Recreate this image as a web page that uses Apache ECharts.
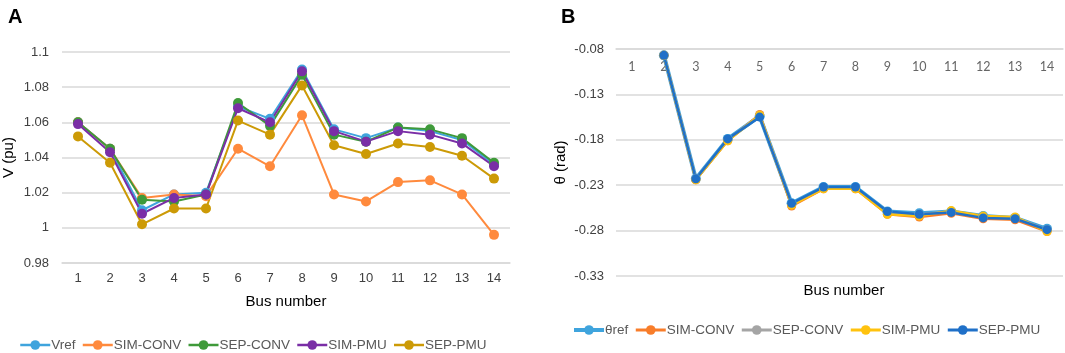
<!DOCTYPE html>
<html>
<head>
<meta charset="utf-8">
<script src="https://cdn.jsdelivr.net/npm/echarts@6/dist/echarts.min.js"></script>
<style>
  html, body { margin: 0; padding: 0; background: #fff; }
  #chart { width: 1065px; height: 353px; }
</style>
</head>
<body>
<div id="chart"></div>
<script>
// bus numbers (categories)
const buses = ['1', '2', '3', '4', '5', '6', '7', '8', '9', '10', '11', '12', '13', '14'];

// panel A - voltage magnitude (pu)
const vRef     = [1.060, 1.045, 1.010, 1.019, 1.020, 1.069, 1.062, 1.090, 1.056, 1.051, 1.057, 1.055, 1.050, 1.036];
const vSimConv = [1.060, 1.045, 1.017, 1.019, 1.018, 1.045, 1.035, 1.064, 1.019, 1.015, 1.026, 1.027, 1.019, 0.996];
const vSepConv = [1.060, 1.045, 1.016, 1.015, 1.019, 1.071, 1.058, 1.087, 1.053, 1.049, 1.057, 1.056, 1.051, 1.037];
const vSimPmu  = [1.059, 1.043, 1.008, 1.017, 1.019, 1.068, 1.060, 1.089, 1.055, 1.049, 1.055, 1.053, 1.048, 1.035];
const vSepPmu  = [1.052, 1.037, 1.002, 1.011, 1.011, 1.061, 1.053, 1.081, 1.047, 1.042, 1.048, 1.046, 1.041, 1.028];

// panel B - voltage angle (rad), bus 1 is the slack bus (off the scale)
const tRef     = [null, -0.087, -0.223, -0.179, -0.154, -0.250, -0.232, -0.232, -0.259, -0.261, -0.259, -0.264, -0.266, -0.278];
const tSimConv = [null, -0.087, -0.224, -0.181, -0.152, -0.253, -0.234, -0.234, -0.262, -0.265, -0.261, -0.267, -0.268, -0.281];
const tSepConv = [null, -0.087, -0.223, -0.180, -0.153, -0.251, -0.233, -0.233, -0.260, -0.262, -0.259, -0.265, -0.266, -0.279];
const tSimPmu  = [null, -0.087, -0.224, -0.181, -0.153, -0.252, -0.234, -0.234, -0.262, -0.264, -0.258, -0.264, -0.265, -0.281];
const tSepPmu  = [null, -0.087, -0.223, -0.179, -0.155, -0.250, -0.232, -0.232, -0.259, -0.262, -0.260, -0.266, -0.267, -0.279];

// tick labels
const vTicks = [0.98, 1, 1.02, 1.04, 1.06, 1.08, 1.1];
const tTicks = [-0.33, -0.28, -0.23, -0.18, -0.13, -0.08];

const namesA = ['Vref', 'SIM-CONV', 'SEP-CONV', 'SIM-PMU', 'SEP-PMU'];
const namesB = ['θref', 'SIM-CONV', 'SEP-CONV', 'SIM-PMU', 'SEP-PMU'];

const colorsA = ['#3fa4dd', '#ff8a3d', '#3f9a3a', '#7a2ea6', '#cc9a06'];
const colorsB = ['#3fa4dd', '#f87d2a', '#a5a5a5', '#ffc20e', '#1f70c8'];

const dataA = [vRef, vSimConv, vSepConv, vSimPmu, vSepPmu];
const dataB = [tRef, tSimConv, tSepConv, tSimPmu, tSepPmu];

const gridColor = '#d9d9d9';
const font = 'Liberation Sans, Arial, sans-serif';

let myChart = echarts.init(document.getElementById('chart'));

let series = [];
dataA.forEach(function (d, i) {
  series.push({
    name: 'A:' + namesA[i],
    type: 'line',
    xAxisIndex: 0,
    yAxisIndex: 0,
    data: d,
    color: colorsA[i],
    symbol: 'circle',
    symbolSize: 10,
    lineStyle: { width: 2 },
    animation: false
  });
});
dataB.forEach(function (d, i) {
  series.push({
    name: 'B:' + namesB[i],
    type: 'line',
    xAxisIndex: 1,
    yAxisIndex: 1,
    data: d,
    color: colorsB[i],
    symbol: 'circle',
    symbolSize: i === 0 ? 10 : 9,
    lineStyle: { width: i === 0 ? 4 : 2.5 },
    animation: false
  });
});

let legendText = { fontSize: 13.5, color: '#595959', fontFamily: font, padding: [0, 0, 0, -4] };

let option = {
  backgroundColor: '#fff',
  title: [
    { text: 'A', left: 3, top: 2, textStyle: { fontSize: 20, fontWeight: 'bold', color: '#000', fontFamily: font } },
    { text: 'B', left: 556, top: 2, textStyle: { fontSize: 20, fontWeight: 'bold', color: '#000', fontFamily: font } },
    { text: 'Bus number', left: 839, top: 278, textAlign: 'center',
      textStyle: { fontSize: 15, fontWeight: 'normal', color: '#000', fontFamily: font } }
  ],
  legend: [
    {
      data: namesA.map(function (n) { return { name: 'A:' + n, lineStyle: { width: 2.5 } }; }),
      left: 14, top: 333,
      itemWidth: 30, itemHeight: 12, itemGap: 6,
      formatter: function (n) { return n.slice(2); },
      textStyle: legendText
    },
    {
      data: namesB.map(function (n, i) { return { name: 'B:' + n, lineStyle: { width: i === 0 ? 4 : 3 } }; }),
      left: 567, top: 318,
      itemWidth: 30, itemHeight: 12, itemGap: 6,
      formatter: function (n) { return n.slice(2); },
      textStyle: legendText
    }
  ],
  grid: [
    { left: 60, top: 52, width: 450, height: 211 },
    { left: 616, top: 49, width: 447, height: 227 }
  ],
  xAxis: [
    {
      type: 'category', gridIndex: 0, data: buses, boundaryGap: true,
      name: 'Bus number', nameLocation: 'middle', nameGap: 31,
      nameTextStyle: { fontSize: 15, color: '#000', fontFamily: font },
      axisLine: { show: true, lineStyle: { color: gridColor, width: 1.5 } },
      axisTick: { show: false },
      axisLabel: { fontSize: 13, color: '#404040', margin: 9, fontFamily: font }
    },
    {
      type: 'category', gridIndex: 1, data: buses, boundaryGap: true, position: 'top',
      axisLine: { show: true, lineStyle: { color: gridColor, width: 1.5 } },
      axisTick: { show: false },
      axisLabel: { inside: true, fontSize: 12.5, color: '#666', margin: 11, fontFamily: 'Lato, sans-serif' }
    }
  ],
  yAxis: [
    {
      type: 'value', gridIndex: 0, min: 0.98, max: 1.1,
      name: 'V (pu)', nameLocation: 'middle', nameGap: 46,
      nameTextStyle: { fontSize: 15, color: '#000', fontFamily: font },
      axisLine: { show: false }, axisTick: { show: false, customValues: vTicks },
      axisLabel: { customValues: vTicks, fontSize: 13, color: '#404040', margin: 13, fontFamily: font },
      splitLine: { lineStyle: { color: gridColor, width: 1.5 } }
    },
    {
      type: 'value', gridIndex: 1, min: -0.33, max: -0.08,
      name: 'θ (rad)', nameLocation: 'middle', nameGap: 48,
      nameTextStyle: { fontSize: 15, color: '#000', fontFamily: font },
      axisLine: { show: false }, axisTick: { show: false, customValues: tTicks },
      axisLabel: { customValues: tTicks, fontSize: 13, color: '#404040', margin: 12, fontFamily: font },
      splitLine: { lineStyle: { color: gridColor, width: 1.5 } }
    }
  ],
  series: series
};

myChart.setOption(option);
</script>
</body>
</html>
